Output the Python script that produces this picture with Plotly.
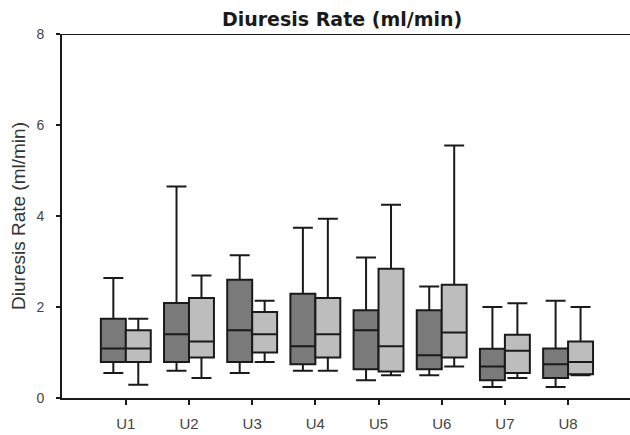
import plotly.graph_objects as go

cats = ["U1", "U2", "U3", "U4", "U5", "U6", "U7", "U8"]

dark_lo = [0.55, 0.60, 0.55, 0.60, 0.39, 0.50, 0.24, 0.24]
dark_q1 = [0.79, 0.79, 0.79, 0.74, 0.63, 0.63, 0.39, 0.44]
dark_med = [1.09, 1.40, 1.49, 1.14, 1.49, 0.94, 0.69, 0.74]
dark_q3 = [1.74, 2.09, 2.60, 2.29, 1.93, 1.93, 1.08, 1.09]
dark_hi = [2.64, 4.65, 3.14, 3.74, 3.09, 2.45, 2.00, 2.14]

light_lo = [0.29, 0.44, 0.79, 0.60, 0.50, 0.69, 0.44, 0.50]
light_q1 = [0.79, 0.89, 1.00, 0.89, 0.58, 0.89, 0.55, 0.52]
light_med = [1.09, 1.24, 1.40, 1.40, 1.14, 1.44, 1.04, 0.79]
light_q3 = [1.49, 2.20, 1.89, 2.20, 2.84, 2.49, 1.39, 1.24]
light_hi = [1.74, 2.69, 2.14, 3.94, 4.25, 5.55, 2.08, 2.00]

y_ticks = [0, 2, 4, 6, 8]

fig = go.Figure()
for name, lo, q1, med, q3, hi, col in [
    ("A", dark_lo, dark_q1, dark_med, dark_q3, dark_hi, "#7a7a7a"),
    ("B", light_lo, light_q1, light_med, light_q3, light_hi, "#bdbdbd"),
]:
    fig.add_trace(go.Box(
        x=cats, q1=q1, median=med, q3=q3, lowerfence=lo, upperfence=hi,
        name=name, fillcolor=col, line=dict(color="#1a1a1a", width=2),
        whiskerwidth=0.8, boxpoints=False, hoverinfo="skip",
    ))

fig.add_shape(type="line", xref="paper", yref="y", x0=0, x1=1, y0=8, y1=8,
              line=dict(color="#1a1a1a", width=2))

fig.update_layout(
    width=630, height=435,
    margin=dict(l=62, r=0, t=34, b=37),
    paper_bgcolor="white", plot_bgcolor="white",
    boxmode="group", boxgap=0.21, boxgroupgap=0,
    showlegend=False,
    font=dict(family="Liberation Sans", color="#333333", size=14),
    title=dict(text="<b>Diuresis Rate (ml/min)</b>", x=0.543, xanchor="center",
               y=0.955, yanchor="middle",
               font=dict(family="DejaVu Sans", size=19, color="#1a1a1a")),
    xaxis=dict(type="category", categoryorder="array", categoryarray=cats,
               range=[-1.01, 7.98], showline=True, linecolor="#1a1a1a", linewidth=2,
               ticks="outside", ticklen=5, tickwidth=1.5, tickcolor="#1a1a1a",
               showgrid=False, zeroline=False, ticklabelstandoff=6,
               tickfont=dict(size=15, color="#444444")),
    yaxis=dict(range=[0, 8], tickvals=y_ticks, showline=True, linecolor="#1a1a1a",
               linewidth=2, ticks="outside", ticklen=4, tickwidth=1.5,
               tickcolor="#1a1a1a", showgrid=False, zeroline=False,
               tickfont=dict(size=14, color="#444444"), ticklabelstandoff=9,
               title=dict(text="Diuresis Rate (ml/min)", standoff=6,
                          font=dict(size=19, color="#333333"))),
)

fig.write_html("out.html", config={"displayModeBar": False},
               post_script="document.body.style.margin='0';")
